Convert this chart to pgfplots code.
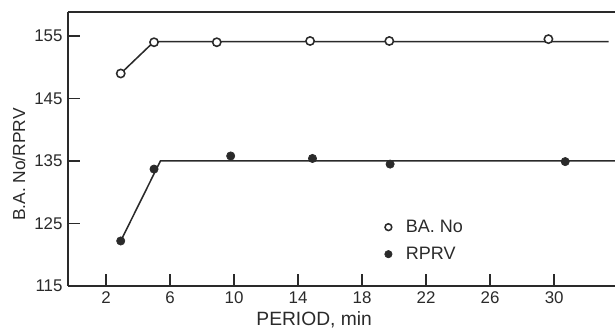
\documentclass[border=0pt]{standalone}
\usepackage{fontspec}
\setmainfont{Liberation Sans}
\usepackage{pgfplots}
\pgfplotsset{compat=1.18}
\definecolor{ink}{HTML}{2A2A2A}
\begin{document}
\begin{tikzpicture}
\begin{axis}[
  scale only axis,
  width=355.6pt, height=178.1pt,
  xmin=-0.375, xmax=33.8,
  ymin=115, ymax=158.84,
  axis x line=box, axis y line=left,
  axis line style={ink, line width=1pt, -},
  xtick={2,6,...,30}, ytick={115,125,...,155},
  xtick pos=bottom, ytick pos=left,
  tick align=inside,
  major tick length=7.5pt,
  tick style={ink, line width=1pt},
  ticklabel style={font=\fontsize{11}{12}\selectfont, text=ink},
  /pgf/number format/assume math mode=true,
  xlabel={PERIOD, min},
  ylabel={B.A. No/RPRV},
  xlabel style={at={(axis description cs:0.45,-0.124)}, anchor=center, text=ink, font=\fontsize{12.5}{14}\selectfont},
  ylabel style={at={(axis description cs:-0.0896,0.443)}, anchor=center, rotate=0, text=ink, font=\fontsize{11.3}{13}\selectfont},
  legend style={draw=none, fill=none, at={(axis description cs:0.57,0.265)}, anchor=north west, row sep=4pt, font=\fontsize{11.7}{13}\selectfont, text=ink},
  legend cell align=left,
]
% fitted lines
\addplot[ink, line width=1pt, forget plot] coordinates {(2.92,149.0) (5.0,154.1) (33.4,154.1)};
\addplot[ink, line width=1pt, forget plot] coordinates {(2.92,122.2) (5.4,135.0) (33.8,135.0)};
% data
\addplot[only marks, mark=*, mark size=2.7pt, mark options={fill=white, draw=ink, line width=1pt}, legend image post style={mark size=2.2pt}] coordinates {
(2.92,149.0) (5.0,154.0) (8.92,154.0) (14.75,154.2) (19.7,154.2) (29.64,154.5)};
\addlegendentry{\hspace{7pt}BA. No}
\addplot[only marks, mark=*, mark size=2.7pt, mark options={fill=ink, draw=ink}, legend image post style={mark size=2.4pt}] coordinates {
(2.92,122.2) (5.0,133.7) (9.79,135.8) (14.9,135.4) (19.75,134.5) (30.69,134.9)};
\addlegendentry{\hspace{7pt}RPRV}
\end{axis}
\pgfresetboundingbox
\path[use as bounding box] ([xshift=-44.2pt,yshift=-27.3pt]current axis.south west) rectangle ([yshift=7.8pt]current axis.north east);
\end{tikzpicture}
\end{document}
